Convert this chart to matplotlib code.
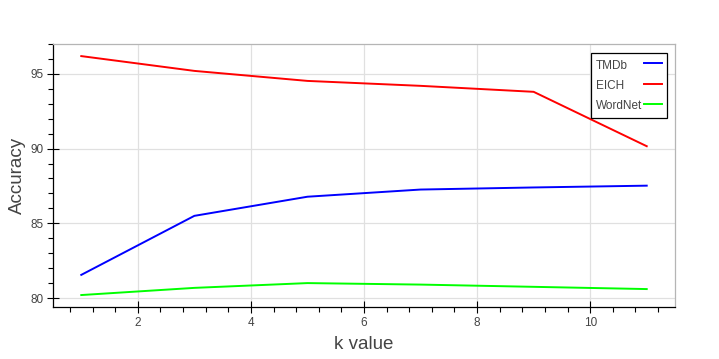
import matplotlib
matplotlib.use('Agg')
import matplotlib.pyplot as plt
from matplotlib.ticker import MultipleLocator, AutoMinorLocator

plt.rcParams['font.family'] = ['Liberation Sans', 'DejaVu Sans']

# valores de k e acurácia por base
k_values = [1, 3, 5, 7, 9, 11]
tmdb = [81.55, 85.5, 86.78, 87.26, 87.4, 87.52]
eich = [96.19, 95.2, 94.53, 94.2, 93.8, 90.16]
wordnet = [80.2, 80.68, 81.0, 80.9, 80.75, 80.6]

series_names = ['TMDb', 'EICH', 'WordNet']
series_colors = ['#0000ff', '#ff0000', '#00ff00']

fig = plt.figure(figsize=(7.19, 3.59), dpi=100)
ax = fig.add_axes([53 / 719, 1 - 307 / 359, 622 / 719, 263 / 359])

for nome, valores, cor in zip(series_names, [tmdb, eich, wordnet], series_colors):
    ax.plot(k_values, valores, color=cor, lw=1.4, label=nome)

ax.set_xlim(0.5, 11.5)
ax.set_ylim(79.4, 97.0)
ax.xaxis.set_major_locator(MultipleLocator(2))
ax.xaxis.set_minor_locator(AutoMinorLocator(5))
ax.yaxis.set_major_locator(MultipleLocator(5))
ax.yaxis.set_minor_locator(AutoMinorLocator(5))

ax.grid(True, which='major', color='#e0e0e0', lw=0.9)
ax.set_axisbelow(True)

for lado in ['top', 'right']:
    ax.spines[lado].set_color('#b5b5b5')
    ax.spines[lado].set_linewidth(0.9)
for lado in ['left', 'bottom']:
    ax.spines[lado].set_color('black')
    ax.spines[lado].set_linewidth(0.9)

ax.tick_params(which='major', direction='inout', length=8, width=0.8,
               color='black', labelsize=8.5, labelcolor='#444444', pad=3)
ax.tick_params(which='minor', direction='out', length=3.5, width=0.8, color='black')

ax.set_xlabel('k value', fontsize=13.5, color='#444444', labelpad=5)
ax.set_ylabel('Accuracy', fontsize=13.5, color='#444444', labelpad=3)

sep_base = 0.17
leg = ax.legend(loc='upper right', bbox_to_anchor=(666.5 / 719, 1 - 53 / 359),
                bbox_transform=fig.transFigure, markerfirst=False, fancybox=False,
                framealpha=1, edgecolor='black', fontsize=8.5, handlelength=1.47,
                handleheight=1.6, handletextpad=sep_base, borderpad=0.4,
                labelspacing=0.42, borderaxespad=0)
leg.get_frame().set_linewidth(0.9)
for txt in leg.get_texts():
    txt.set_color('#444444')

# texto alinhado à esquerda e linhas à direita, como no bokeh
fig.canvas.draw()
renderer = fig.canvas.get_renderer()
larguras = [t.get_window_extent(renderer).width for t in leg.get_texts()]
linhas = leg._legend_handle_box.get_children()[0].get_children()
for linha, w in zip(linhas, larguras):
    linha.sep = sep_base * 8.5 + (max(larguras) - w) * 72 / fig.dpi

plt.savefig('out.png', dpi=100)
